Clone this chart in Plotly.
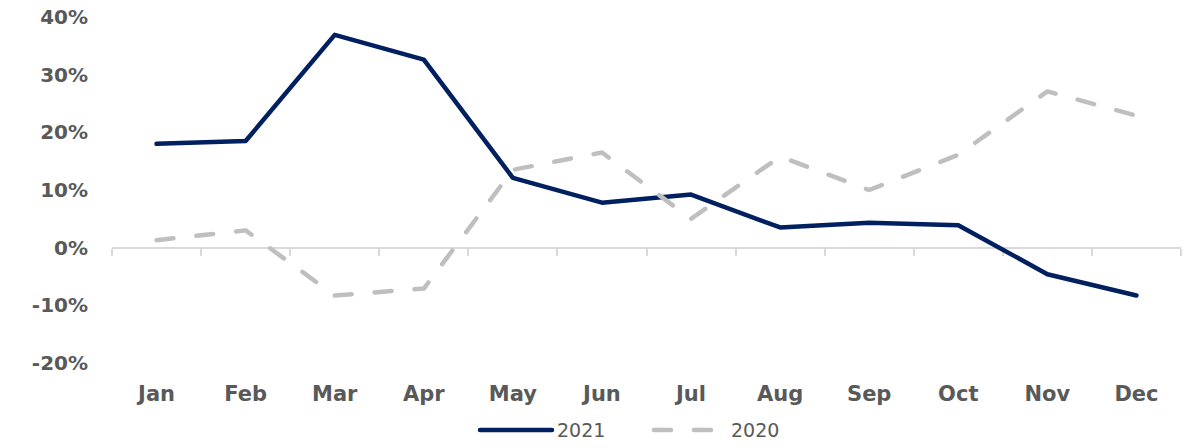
import plotly.graph_objects as go

months = ["Jan", "Feb", "Mar", "Apr", "May", "Jun", "Jul", "Aug", "Sep", "Oct", "Nov", "Dec"]
growth_2021 = [18.0, 18.5, 36.9, 32.6, 12.1, 7.8, 9.2, 3.5, 4.3, 3.9, -4.6, -8.3]
growth_2020 = [1.3, 3.0, -8.3, -7.1, 13.5, 16.5, 5.0, 15.8, 10.0, 16.1, 27.1, 22.9]

y_ticks = [-20, -10, 0, 10, 20, 30, 40]
y_labels = [f"{v}%" for v in y_ticks]

NAVY = "#002060"
GREY = "#bfbfbf"
TEXT = "#595959"
AXIS = "#d9d9d9"

fig = go.Figure()

fig.add_trace(go.Scatter(
    x=months, y=growth_2021, name="2021", mode="lines",
    line=dict(color=NAVY, width=4.5), xaxis="x", yaxis="y",
))
fig.add_trace(go.Scatter(
    x=months, y=growth_2020, name="2020", mode="lines",
    line=dict(color=GREY, width=4.5, dash="17px,23px"), xaxis="x", yaxis="y",
))
# invisible companion trace so the bottom category axis carries the month labels
fig.add_trace(go.Scatter(
    x=months, y=[None] * len(months), mode="lines", showlegend=False,
    hoverinfo="skip", xaxis="x2", yaxis="y",
))

zero_pos = (0 - y_ticks[0]) / (y_ticks[-1] - y_ticks[0])

fig.update_layout(
    width=1204, height=448,
    margin=dict(l=112, r=23, t=17, b=85, autoexpand=False),
    paper_bgcolor="white", plot_bgcolor="white",
    font=dict(family="DejaVu Sans", color=TEXT),
    showlegend=True,
    legend=dict(
        orientation="h", xref="container", yref="container",
        x=0.4, xanchor="left", y=0.04, yanchor="middle",
        bgcolor="rgba(0,0,0,0)",
        font=dict(size=19, color=TEXT, family="DejaVu Sans"),
        tracegroupgap=0,
    ),
    xaxis=dict(
        type="category", categoryorder="array", categoryarray=months,
        range=[-0.5, len(months) - 0.5],
        anchor="free", position=zero_pos, layer="below traces",
        showline=True, linecolor=AXIS, linewidth=2,
        ticks="outside", tickson="boundaries", ticklen=7, tickwidth=2, tickcolor=AXIS,
        showticklabels=False, showgrid=False, zeroline=False, automargin=False,
    ),
    xaxis2=dict(
        type="category", categoryorder="array", categoryarray=months,
        range=[-0.5, len(months) - 0.5], matches="x",
        overlaying="x", anchor="free", position=0,
        showline=False, showgrid=False, zeroline=False, automargin=False,
        ticks="outside", ticklen=12, tickcolor="rgba(0,0,0,0)",
        tickfont=dict(size=21, color=TEXT, family="DejaVu Sans", weight="bold"),
    ),
    yaxis=dict(
        range=[y_ticks[0], y_ticks[-1]], tickvals=y_ticks, ticktext=y_labels,
        showgrid=False, zeroline=False, showline=False, automargin=False,
        ticks="outside", ticklen=19, tickcolor="rgba(0,0,0,0)",
        tickfont=dict(size=20, color=TEXT, family="DejaVu Sans", weight="bold"),
    ),
)

# Round line ends, longer legend keys, and fixed legend entry placement.
post = """
(function () {
  var gd = document.getElementById('{plot_id}');
  var targets = [[517, 430], [691, 430]];
  function fix() {
    gd.querySelectorAll('.scatterlayer .js-line').forEach(function (p) {
      p.style.strokeLinecap = 'round';
      p.style.strokeLinejoin = 'round';
    });
    gd.querySelectorAll('.legend [clip-path]').forEach(function (el) {
      el.removeAttribute('clip-path');
    });
    gd.querySelectorAll('.legend .traces').forEach(function (g, i) {
      var line = g.querySelector('.legendlines path');
      if (line) {
        line.setAttribute('d', 'M-37,0h72');
        line.style.strokeLinecap = 'round';
      }
      var t = targets[i];
      if (!t) return;
      var m = g.getScreenCTM();
      var tr = g.transform.baseVal.consolidate();
      var cx = tr ? tr.matrix.e : 0, cy = tr ? tr.matrix.f : 0;
      g.setAttribute('transform', 'translate(' + (cx + t[0] - m.e) + ',' + (cy + t[1] - m.f) + ')');
    });
  }
  if (gd.on) gd.on('plotly_afterplot', fix);
  setTimeout(fix, 0);
  setTimeout(fix, 300);
})();
"""

fig.write_html("out.html", post_script=post)
